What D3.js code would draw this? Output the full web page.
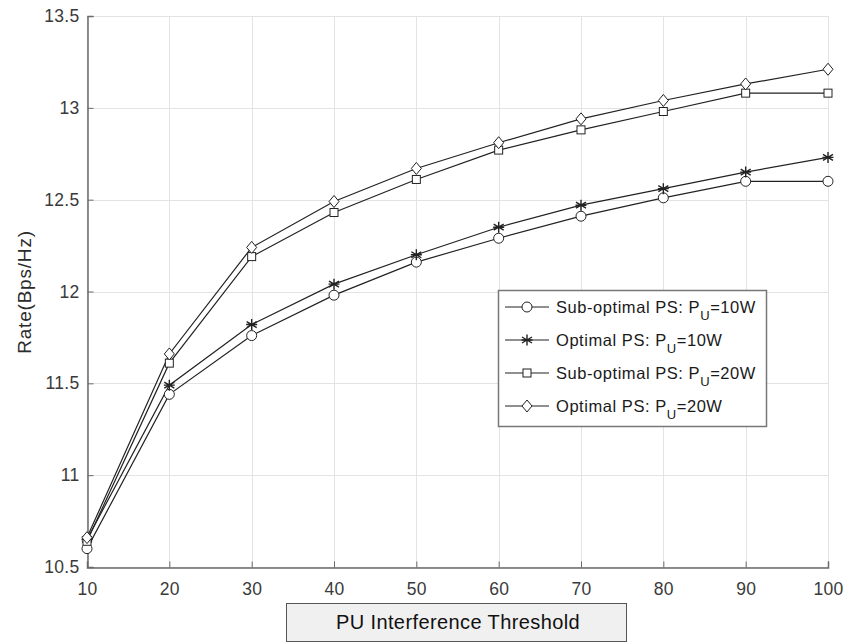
<!DOCTYPE html>
<html>
<head>
<meta charset="utf-8">
<script src="https://cdn.jsdelivr.net/npm/d3@7"></script>
<style>
  html, body { margin: 0; padding: 0; background: #fff; }
  svg { display: block; font-family: "Liberation Sans", Arial, Helvetica, sans-serif; }
</style>
</head>
<body>
<svg id="chart" width="847" height="644"></svg>
<script>
// Interference threshold values on the x axis
const thresholds = [10, 20, 30, 40, 50, 60, 70, 80, 90, 100];

// Achievable rate (Bps/Hz) for each scheme
const subOptimal10W = [10.60, 11.44, 11.76, 11.98, 12.16, 12.29, 12.41, 12.51, 12.60, 12.60];
const optimal10W    = [10.65, 11.49, 11.82, 12.04, 12.20, 12.35, 12.47, 12.56, 12.65, 12.73];
const subOptimal20W = [10.64, 11.61, 12.19, 12.43, 12.61, 12.77, 12.88, 12.98, 13.08, 13.08];
const optimal20W    = [10.66, 11.66, 12.24, 12.49, 12.67, 12.81, 12.94, 13.04, 13.13, 13.21];

const seriesNames = ["Sub-optimal PS: P", "Optimal PS: P", "Sub-optimal PS: P", "Optimal PS: P"];
const seriesPower = ["=10W", "=10W", "=20W", "=20W"];
const seriesMarkers = ["circle", "star", "square", "diamond"];

const xTicks = thresholds;
const yTicks = [10.5, 11, 11.5, 12, 12.5, 13, 13.5];

const series = [subOptimal10W, optimal10W, subOptimal20W, optimal20W].map((vals, i) => ({
  name: seriesNames[i],
  power: seriesPower[i],
  marker: seriesMarkers[i],
  values: vals.map((v, j) => ({ x: thresholds[j], y: v }))
}));

const svg = d3.select("#chart");
const plotLeft = 87, plotRight = 828, plotTop = 16, plotBottom = 567;

const x = d3.scaleLinear().domain([10, 100]).range([plotLeft, plotRight]);
const y = d3.scaleLinear().domain([10.5, 13.5]).range([plotBottom, plotTop]);

// grid
const grid = svg.append("g").attr("stroke", "#e3e3e3").attr("stroke-width", 1);
grid.selectAll(".gx").data(xTicks).join("line")
  .attr("x1", d => Math.round(x(d)) + 0.5).attr("x2", d => Math.round(x(d)) + 0.5)
  .attr("y1", plotTop).attr("y2", plotBottom);
grid.selectAll(".gy").data(yTicks).join("line")
  .attr("y1", d => Math.round(y(d)) + 0.5).attr("y2", d => Math.round(y(d)) + 0.5)
  .attr("x1", plotLeft).attr("x2", plotRight);

// axes (ticks pointing inward)
const xAxis = d3.axisBottom(x).tickValues(xTicks).tickSize(-6).tickPadding(15).tickFormat(d3.format("d"));
const yAxis = d3.axisLeft(y).tickValues(yTicks).tickSize(-6).tickPadding(8).tickFormat(d => d);

const gx = svg.append("g").attr("transform", `translate(0,${plotBottom + 0.5})`).call(xAxis);
const gy = svg.append("g").attr("transform", `translate(${plotLeft + 0.5},0)`).call(yAxis);
[gx, gy].forEach(g => {
  g.select(".domain").attr("stroke", "#6a6a6a").attr("stroke-width", 1.5);
  g.selectAll(".tick line").attr("stroke", "#6a6a6a");
  g.selectAll(".tick text").attr("fill", "#3a3a3a")
    .style("font-size", "17.5px").style("letter-spacing", "0.3px");
});

// y label
svg.append("text")
  .attr("transform", `translate(31,${292}) rotate(-90)`)
  .attr("text-anchor", "middle")
  .attr("fill", "#2a2a2a")
  .style("font-size", "19px")
  .style("letter-spacing", "0.8px")
  .text("Rate(Bps/Hz)");

// x label in a box
svg.append("rect")
  .attr("x", 286.5).attr("y", 603.5).attr("width", 340).attr("height", 38)
  .attr("fill", "#f0f0f0").attr("stroke", "#555").attr("stroke-width", 1);
svg.append("text")
  .attr("x", 458).attr("y", 629)
  .attr("text-anchor", "middle")
  .attr("fill", "#111")
  .style("font-size", "20px")
  .style("letter-spacing", "0.4px")
  .text("PU Interference Threshold");

// marker drawing
function drawMarker(sel, type) {
  const stroke = "#222";
  if (type === "circle") {
    sel.append("circle").attr("r", 5).attr("fill", "#fff").attr("stroke", stroke).attr("stroke-width", 1);
  } else if (type === "square") {
    sel.append("rect").attr("x", -4).attr("y", -4).attr("width", 8).attr("height", 8)
      .attr("fill", "#fff").attr("stroke", stroke).attr("stroke-width", 1);
  } else if (type === "diamond") {
    sel.append("path").attr("d", "M0,-6L5,0L0,6L-5,0Z")
      .attr("fill", "#fff").attr("stroke", stroke).attr("stroke-width", 1);
  } else if (type === "star") {
    sel.append("path").attr("d", "M0,-5.5V5.5M-5,-3L5,3M-5,3L5,-3M-5.5,0H5.5")
      .attr("fill", "none").attr("stroke", stroke).attr("stroke-width", 1.4);
  }
}

const line = d3.line().x(d => x(d.x)).y(d => y(d.y));
const plot = svg.append("g");
series.forEach(s => {
  plot.append("path").datum(s.values)
    .attr("d", line).attr("fill", "none").attr("stroke", "#222").attr("stroke-width", 1.2);
});
series.forEach(s => {
  plot.selectAll(null).data(s.values).join("g")
    .attr("transform", d => `translate(${x(d.x)},${y(d.y)})`)
    .each(function () { drawMarker(d3.select(this), s.marker); });
});

// legend
const legend = svg.append("g");
legend.append("rect")
  .attr("x", 498.5).attr("y", 290.5).attr("width", 268).attr("height", 136)
  .attr("fill", "#fff").attr("stroke", "#777").attr("stroke-width", 1.5);
const rowY = [307, 340, 373, 406];
series.forEach((s, i) => {
  const g = legend.append("g").attr("transform", `translate(0,${rowY[i]})`);
  g.append("line").attr("x1", 505).attr("x2", 549).attr("y1", 0).attr("y2", 0)
    .attr("stroke", "#222").attr("stroke-width", 1.2);
  const m = g.append("g").attr("transform", "translate(527,0)");
  drawMarker(m, s.marker);
  const t = g.append("text").attr("x", 556).attr("y", 6)
    .attr("fill", "#1a1a1a").style("font-size", "16.5px").style("letter-spacing", "0.55px");
  t.append("tspan").text(s.name);
  t.append("tspan").attr("dy", 7).style("font-size", "13px").text("U");
  t.append("tspan").attr("dy", -7).text(s.power);
});
</script>
</body>
</html>
